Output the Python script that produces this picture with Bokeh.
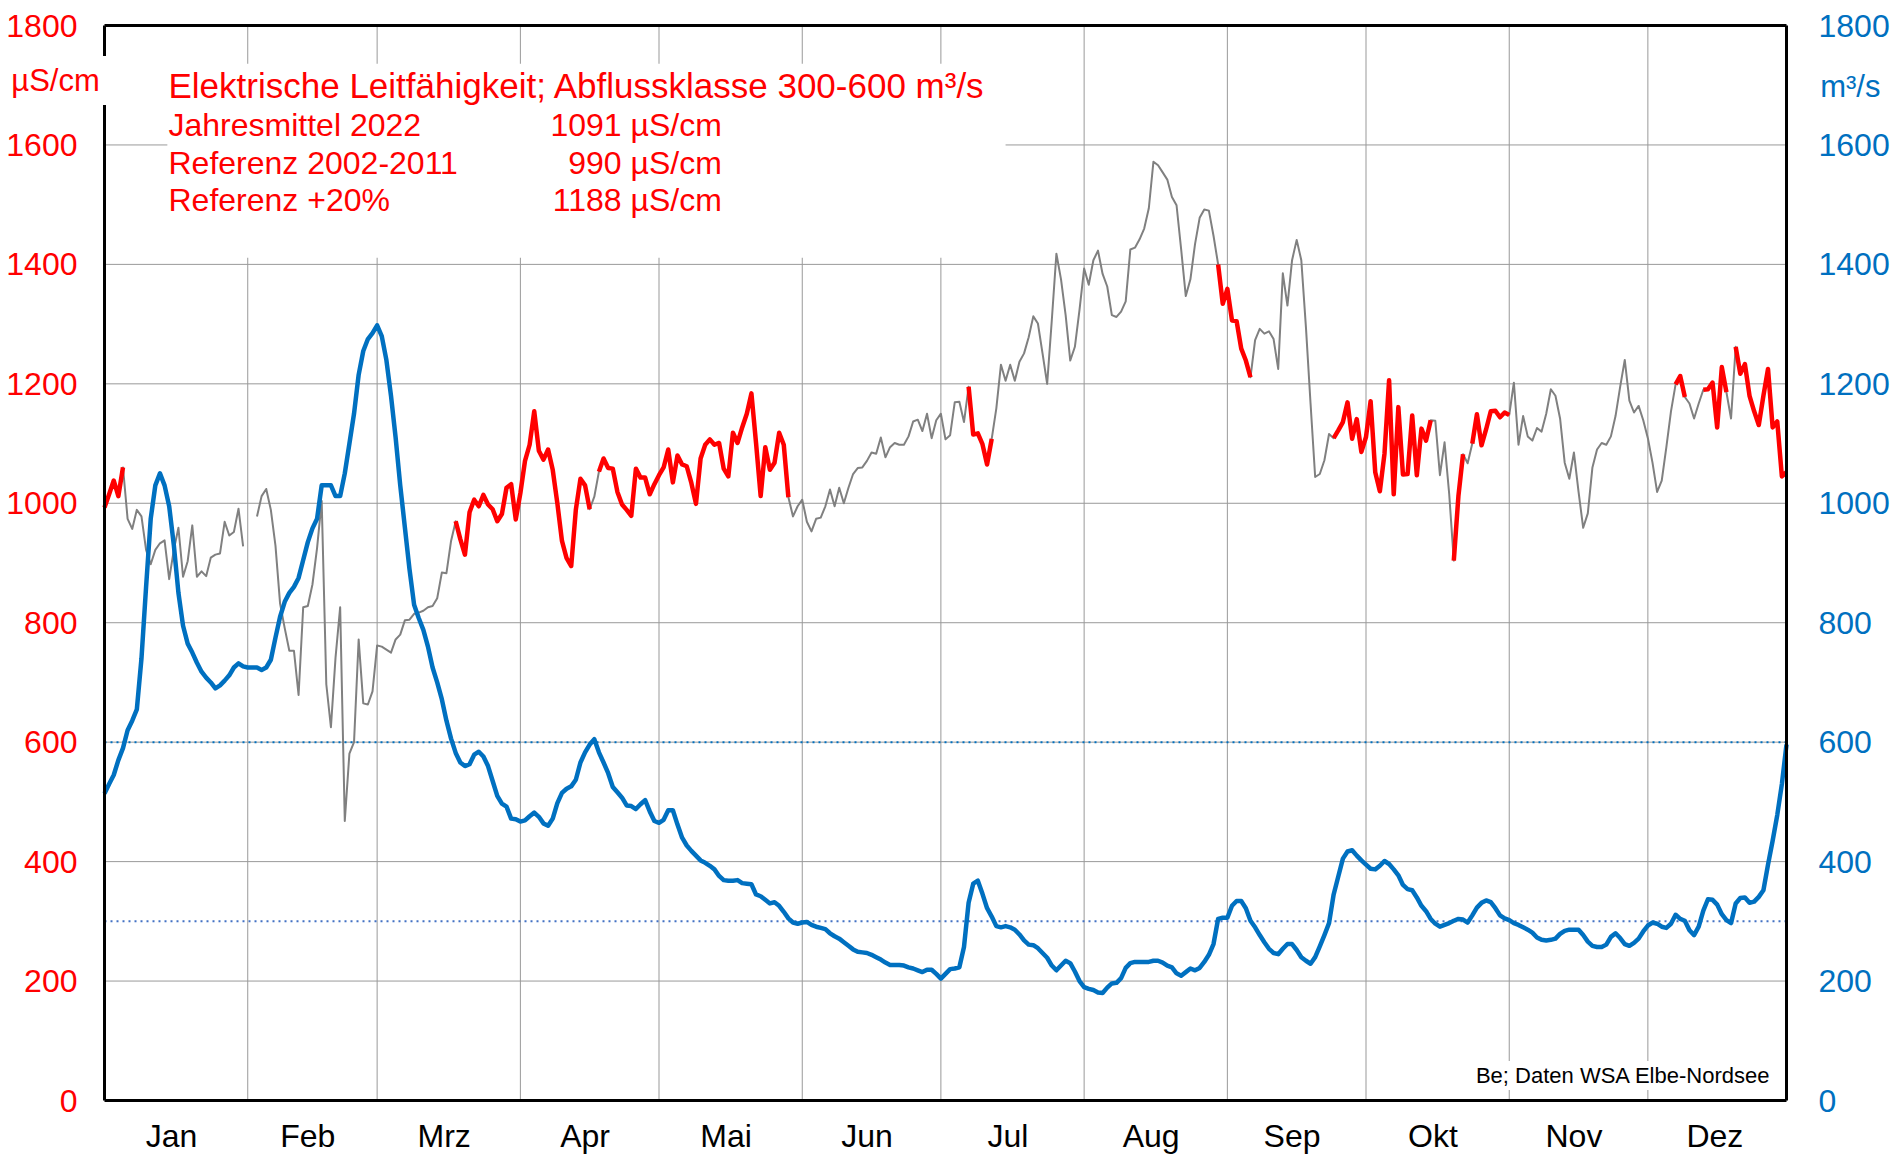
import numpy as np
from bokeh.plotting import figure
from bokeh.models import (ColumnDataSource, Range1d, LinearAxis, FixedTicker,
                          Label, BoxAnnotation)
from bokeh.embed import file_html
from bokeh.resources import INLINE

nan = float("nan")

months = ["Jan", "Feb", "Mrz", "Apr", "Mai", "Jun", "Jul", "Aug", "Sep", "Okt", "Nov", "Dez"]
month_days = [31, 28, 31, 30, 31, 30, 31, 31, 30, 31, 30, 31]
y_ticks = [0, 200, 400, 600, 800, 1000, 1200, 1400, 1600, 1800]

# Elektrische Leitfaehigkeit (uS/cm), daily, 2022
lf_jan = [993, 1015, 1038, 1012, 1060, 974, 957, 989, 978, 922, 898, 922, 933, 938, 873, 922,
          959, 877, 903, 963, 877, 886, 878, 909, 914, 916, 969, 946, 952, 991, 928]
lf_feb = [nan, nan, 978, 1012, 1024, 989, 929, 832, 791, 753, 753, 679, 826, 828, 864, 925,
          1004, 697, 625, 742, 826, 468, 581, 600, 772, 665, 663, 685]
lf_mar = [762, 760, 755, 750, 772, 780, 804, 805, 815, 817, 820, 826, 828, 841, 884, 883, 937,
          970, 940, 914, 985, 1006, 995, 1014, 998, 990, 970, 982, 1026, 1032, 973]
lf_apr = [1017, 1071, 1098, 1154, 1088, 1073, 1090, 1056, 1000, 937, 908, 895, 989, 1041, 1030,
          990, 1011, 1053, 1075, 1059, 1058, 1019, 998, 989, 979, 1058, 1043, 1043, 1015, 1032]
lf_may = [1047, 1060, 1090, 1035, 1080, 1065, 1062, 1034, 999, 1075, 1098, 1107, 1098, 1101,
          1058, 1045, 1118, 1101, 1127, 1150, 1184, 1101, 1012, 1094, 1056, 1068, 1118, 1098,
          1010, 978, 995]
lf_jun = [1006, 969, 953, 974, 976, 995, 1023, 995, 1026, 1000, 1026, 1049, 1059, 1060, 1071,
          1085, 1083, 1110, 1077, 1094, 1101, 1098, 1098, 1112, 1137, 1140, 1121, 1150, 1109, 1139]
lf_jul = [1150, 1107, 1114, 1169, 1170, 1136, 1195, 1115, 1117, 1099, 1065, 1108, 1159, 1232,
          1205, 1232, 1205, 1237, 1251, 1278, 1313, 1301, 1251, 1200, 1306, 1418, 1375, 1315,
          1239, 1262, 1324]
lf_aug = [1393, 1366, 1407, 1423, 1384, 1363, 1315, 1312, 1321, 1338, 1425, 1428, 1442, 1460,
          1494, 1572, 1566, 1554, 1542, 1513, 1499, 1425, 1347, 1375, 1434, 1478, 1492, 1490,
          1448, 1400, 1334]
lf_sep = [1359, 1306, 1305, 1259, 1239, 1211, 1273, 1292, 1284, 1288, 1275, 1225, 1385, 1331,
          1407, 1441, 1407, 1295, 1167, 1044, 1049, 1072, 1116, 1109, 1122, 1136, 1169, 1108,
          1141, 1086]
lf_oct = [1111, 1171, 1052, 1020, 1083, 1206, 1015, 1161, 1048, 1049, 1147, 1047, 1125, 1105,
          1139, 1138, 1047, 1102, 1016, 904, 1012, 1082, 1067, 1100, 1149, 1097, 1124, 1154,
          1155, 1144, 1152]
lf_nov = [1148, 1202, 1098, 1146, 1112, 1105, 1126, 1120, 1150, 1191, 1180, 1142, 1068, 1041,
          1085, 1019, 959, 983, 1060, 1090, 1101, 1098, 1112, 1146, 1195, 1240, 1172, 1152,
          1163, 1139]
lf_dec = [1109, 1068, 1019, 1038, 1094, 1154, 1199, 1213, 1178, 1167, 1142, 1167, 1190, 1191,
          1202, 1127, 1228, 1186, 1142, 1262, 1217, 1233, 1180, 1154, 1131, 1180, 1225, 1127,
          1137, 1045, 1052]

# Abfluss (m3/s), daily, 2022
q_jan = [514, 530, 545, 570, 590, 620, 636, 655, 740, 860, 974, 1030, 1050, 1030, 995, 930, 850,
         795, 765, 750, 733, 718, 708, 700, 690, 695, 703, 712, 725, 732, 727]
q_feb = [725, 725, 725, 721, 725, 738, 775, 810, 835, 850, 860, 875, 905, 935, 958, 974, 1030,
         1030, 1030, 1012, 1012, 1050, 1100, 1150, 1215, 1255, 1275, 1285]
q_mar = [1298, 1280, 1240, 1180, 1110, 1030, 960, 890, 830, 808, 788, 760, 725, 700, 672, 636,
         606, 582, 566, 560, 563, 579, 584, 576, 560, 535, 510, 497, 492, 472, 471]
q_apr = [467, 469, 476, 482, 475, 464, 460, 472, 498, 515, 522, 526, 537, 566, 583, 596, 605,
         583, 566, 548, 525, 516, 507, 494, 493, 488, 496, 503, 484, 468]
q_may = [465, 470, 486, 486, 462, 440, 427, 418, 410, 402, 398, 393, 387, 376, 369, 368, 368,
         369, 364, 363, 362, 345, 342, 336, 330, 332, 326, 316, 305, 298, 296]
q_jun = [298, 299, 294, 291, 289, 287, 280, 275, 271, 265, 259, 253, 249, 248, 247, 244, 240,
         236, 231, 227, 227, 227, 226, 223, 221, 218, 215, 219, 219, 212]
q_jul = [204, 212, 220, 221, 223, 257, 331, 363, 368, 346, 322, 308, 292, 290, 292, 290, 286,
         278, 268, 261, 260, 255, 247, 239, 226, 218, 226, 234, 230, 216, 200]
q_aug = [190, 187, 185, 181, 180, 189, 196, 197, 205, 222, 230, 232, 232, 232, 232, 234, 234,
         231, 226, 223, 213, 209, 215, 221, 218, 222, 232, 244, 262, 304, 306]
q_sep = [306, 326, 334, 334, 322, 301, 290, 277, 265, 254, 247, 245, 254, 262, 262, 252, 240,
         234, 229, 240, 258, 277, 297, 345, 375, 405, 417, 419, 410, 402]
q_oct = [395, 388, 387, 393, 401, 396, 387, 377, 361, 354, 352, 340, 326, 317, 304, 296, 291,
         294, 297, 301, 304, 303, 298, 310, 323, 331, 335, 332, 322, 310, 305]
q_nov = [302, 297, 294, 290, 286, 281, 273, 269, 268, 269, 271, 279, 284, 286, 286, 286, 277,
         266, 259, 257, 257, 261, 274, 280, 272, 262, 259, 264, 271, 283]
q_dec = [293, 298, 296, 291, 289, 296, 311, 304, 301, 285, 277, 291, 318, 337, 336, 328, 312,
         302, 297, 330, 339, 340, 331, 333, 341, 352, 395, 435, 478, 530, 596]

# Abflussklasse and summary values
klasse_min, klasse_max = 300, 600
jahresmittel_2022 = 1091
referenz_2002_2011 = 990
referenz_plus20 = 1188

lf = np.array(lf_jan + lf_feb + lf_mar + lf_apr + lf_may + lf_jun + lf_jul + lf_aug +
              lf_sep + lf_oct + lf_nov + lf_dec, dtype=float)
q = np.array(q_jan + q_feb + q_mar + q_apr + q_may + q_jun + q_jul + q_aug + q_sep +
             q_oct + q_nov + q_dec, dtype=float)
day = np.arange(len(lf))
last_day = int(day[-1])
in_class = (q >= klasse_min) & (q <= klasse_max)
lf_class = np.where(in_class, lf, np.nan)

src = ColumnDataSource(dict(day=day, lf=lf, lf_class=lf_class, q=q))

month_start = np.concatenate([[0], np.cumsum(month_days)[:-1]])
month_mid = [float(s + n / 2 - 1) for s, n in zip(month_start, month_days)]
y_min, y_max = y_ticks[0], y_ticks[-1]

FONT = "Liberation Sans"
RED = "#FF0000"
BLUE = "#0070C0"
GRID = "#999999"

# canvas geometry: plot area from x 104..1786, y 25..1100 (canvas pixels)
W, H = 1893, 1154
PL, PR, PT, PB = 104, 1786, 25, 1100
px_day = (PR - PL) / last_day
px_val = (PB - PT) / (y_max - y_min)
x_lo = -PL / px_day
x_hi = last_day + (W - PR) / px_day
y_hi = y_max + PT / px_val
y_lo = y_min - (H - PB) / px_val

p = figure(width=W, height=H, x_range=Range1d(x_lo, x_hi), y_range=Range1d(y_lo, y_hi),
           output_backend="svg", toolbar_location=None,
           x_axis_location=None, y_axis_location=None,
           min_border=0, min_border_left=0, min_border_right=0,
           min_border_top=0, min_border_bottom=0,
           background_fill_color="white", border_fill_color="white")
p.outline_line_color = None
p.xgrid.visible = False
p.ygrid.visible = False
p.extra_y_ranges = {"q": Range1d(y_lo, y_hi)}

# grid lines (month boundaries and value ticks)
vx = [int(s) for s in month_start[1:]]
p.segment(x0=vx, y0=[y_min] * len(vx), x1=vx, y1=[y_max] * len(vx),
          line_color=GRID, line_width=1, level="underlay")
hy = y_ticks[1:-1]
p.segment(x0=[0] * len(hy), y0=hy, x1=[last_day] * len(hy), y1=hy,
          line_color=GRID, line_width=1, level="underlay")

def style_axis(ax, color, size, standoff):
    ax.axis_line_color = "black"
    ax.axis_line_width = 3
    ax.major_tick_line_color = None
    ax.minor_tick_line_color = None
    ax.major_label_standoff = standoff
    ax.major_label_text_color = color
    ax.major_label_text_font = FONT
    ax.major_label_text_font_size = size

# left axis (uS/cm)
la = LinearAxis(ticker=FixedTicker(ticks=y_ticks), fixed_location=0, bounds=(y_min, y_max))
style_axis(la, RED, "32px", 21)
p.add_layout(la, "left")

# right axis (m3/s)
ra = LinearAxis(y_range_name="q", ticker=FixedTicker(ticks=y_ticks), fixed_location=last_day,
                bounds=(y_min, y_max))
style_axis(ra, BLUE, "32px", 26)
p.add_layout(ra, "right")

# bottom axis (months)
ba = LinearAxis(ticker=FixedTicker(ticks=month_mid), fixed_location=y_min,
                bounds=(0, last_day))
ba.major_label_overrides = {m: name for m, name in zip(month_mid, months)}
style_axis(ba, "black", "32px", 11)
p.add_layout(ba, "below")

# top border
ta = LinearAxis(ticker=FixedTicker(ticks=[]), fixed_location=y_max, bounds=(0, last_day))
style_axis(ta, "black", "1px", 0)
p.add_layout(ta, "above")

# white text box behind the title block
p.add_layout(BoxAnnotation(left=13.6, right=195, bottom=1411, top=1736,
                           fill_color="white", fill_alpha=1, line_color=None, level="underlay"))

# threshold lines of the discharge class (within the plot area)
p.segment(x0=[0], y0=[klasse_max], x1=[last_day], y1=[klasse_max], y_range_name="q",
          line_color=BLUE, line_width=2, line_dash="2 4")
p.segment(x0=[0], y0=[klasse_min], x1=[last_day], y1=[klasse_min], y_range_name="q",
          line_color="#4472C4", line_width=2, line_dash="2 4")

# data
p.line("day", "lf", source=src, line_color="#808080", line_width=2, line_join="round")
p.line("day", "lf_class", source=src, line_color=RED, line_width=4.5, line_join="round")
p.line("day", "q", source=src, y_range_name="q", line_color=BLUE, line_width=4.5,
       line_join="round")

# texts
def lab(x, y, text, size, color, align="left", baseline="alphabetic", **kw):
    p.add_layout(Label(x=x, y=y, text=text, text_font=FONT, text_font_size=size,
                       text_color=color, text_align=align, text_baseline=baseline, **kw))

lab(13.85, 1699, "Elektrische Leitfähigkeit; Abflussklasse %d-%d m³/s" % (klasse_min, klasse_max),
    "35px", RED)
lab(13.85, 1634, "Jahresmittel 2022", "32px", RED)
lab(13.85, 1570, "Referenz 2002-2011", "32px", RED)
lab(13.85, 1507, "Referenz +20%", "32px", RED)
lab(133.6, 1634, "%d µS/cm" % jahresmittel_2022, "32px", RED, align="right")
lab(133.6, 1570, "%d µS/cm" % referenz_2002_2011, "32px", RED, align="right")
lab(133.6, 1507, "%d µS/cm" % referenz_plus20, "32px", RED, align="right")

lab(-10.6, 1708, "µS/cm", "31px", RED, align="center",
    background_fill_color="white", background_fill_alpha=1.0, padding=7)
lab(377.8, 1698, "m³/s", "31px", BLUE, align="center")
lab(361, 42, "Be; Daten WSA Elbe-Nordsee", "22px", "black", align="right", baseline="middle",
    background_fill_color="white", background_fill_alpha=1.0, padding=2)

open("out.html", "w").write(file_html(p, INLINE))
